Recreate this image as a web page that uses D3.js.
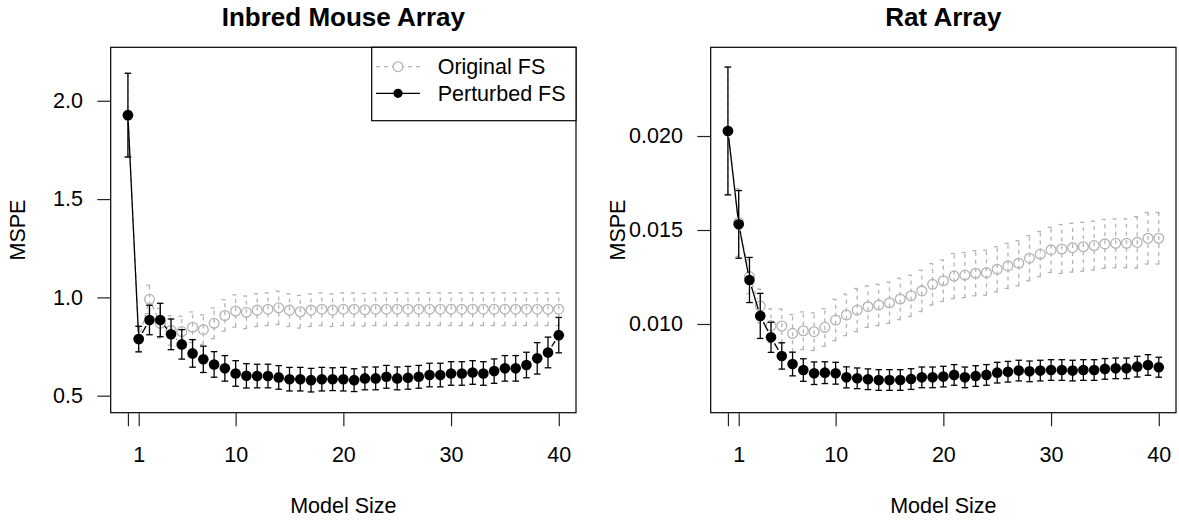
<!DOCTYPE html>
<html>
<head>
<meta charset="utf-8">
<script src="https://cdn.jsdelivr.net/npm/d3@7"></script>
<style>
  body { margin: 0; background: #fff; }
  svg text { font-family: "Liberation Sans", Arial, Helvetica, sans-serif; fill: #000; }
</style>
</head>
<body>
<div class="chart"></div>
<script>
// data
var modelSize = [0, 1, 2, 3, 4, 5, 6, 7, 8, 9, 10, 11, 12, 13, 14, 15, 16, 17, 18, 19, 20,
  21, 22, 23, 24, 25, 26, 27, 28, 29, 30, 31, 32, 33, 34, 35, 36, 37, 38, 39, 40];

var xTicks = [0, 1, 10, 20, 30, 40];
var xTickLabels = ["", "1", "10", "20", "30", "40"];

var mouseTicks = [0.5, 1.0, 1.5, 2.0];
var ratTicks = [0.010, 0.015, 0.020];

// Inbred mouse array
var mouseOrig = [1.927, 0.788, 0.990, 0.868, 0.832, 0.826, 0.848, 0.836, 0.868, 0.908, 0.931,
  0.924, 0.935, 0.940, 0.947, 0.935, 0.927, 0.935, 0.940, 0.935, 0.940,
  0.940, 0.937, 0.940, 0.940, 0.940, 0.940, 0.940, 0.940, 0.940, 0.940,
  0.940, 0.940, 0.940, 0.940, 0.940, 0.940, 0.940, 0.940, 0.940, 0.940];
var mouseOrigErr = [0.213, 0.065, 0.072, 0.075, 0.075, 0.078, 0.078, 0.075, 0.078, 0.080, 0.082,
  0.083, 0.083, 0.083, 0.085, 0.083, 0.083, 0.083, 0.083, 0.083, 0.083,
  0.083, 0.083, 0.083, 0.083, 0.083, 0.083, 0.083, 0.083, 0.083, 0.083,
  0.083, 0.083, 0.083, 0.083, 0.083, 0.083, 0.083, 0.083, 0.083, 0.083];
var mousePert = [1.927, 0.788, 0.885, 0.885, 0.812, 0.761, 0.715, 0.685, 0.659, 0.639, 0.613,
  0.601, 0.600, 0.600, 0.593, 0.584, 0.584, 0.579, 0.584, 0.584, 0.584,
  0.579, 0.588, 0.588, 0.596, 0.588, 0.591, 0.596, 0.605, 0.605, 0.613,
  0.613, 0.618, 0.613, 0.625, 0.639, 0.639, 0.656, 0.690, 0.720, 0.808];
var mousePertErr = [0.213, 0.065, 0.075, 0.085, 0.078, 0.075, 0.070, 0.067, 0.065, 0.065, 0.065,
  0.062, 0.060, 0.060, 0.060, 0.060, 0.060, 0.060, 0.060, 0.058, 0.060,
  0.058, 0.058, 0.058, 0.058, 0.058, 0.058, 0.058, 0.060, 0.060, 0.060,
  0.060, 0.060, 0.060, 0.062, 0.065, 0.065, 0.065, 0.080, 0.078, 0.090];

// Rat array
var ratOrig = [0.02027, 0.0154, 0.01252, 0.01096, 0.00991, 0.00989, 0.0095, 0.00964, 0.00959, 0.00982, 0.01021,
  0.01048, 0.01074, 0.01092, 0.01101, 0.01113, 0.01133, 0.0115, 0.01176, 0.01211, 0.0123,
  0.01255, 0.0126, 0.0127, 0.01273, 0.01291, 0.01309, 0.01323, 0.0135, 0.01372, 0.01394,
  0.01399, 0.01406, 0.01411, 0.01417, 0.01426, 0.01429, 0.01429, 0.01434, 0.01456, 0.01456];
var ratOrigErr = [0.0034, 0.0018, 0.0009, 0.0009, 0.0009, 0.0009, 0.0010, 0.0010, 0.0010, 0.0010, 0.0011,
  0.0011, 0.00115, 0.0011, 0.0011, 0.0011, 0.0011, 0.0011, 0.0011, 0.0011, 0.0011,
  0.0012, 0.0012, 0.0012, 0.0012, 0.0012, 0.0012, 0.0012, 0.0012, 0.0012, 0.0012,
  0.0013, 0.0013, 0.0013, 0.0013, 0.0013, 0.0013, 0.0013, 0.00137, 0.00137, 0.00137];
var ratPert = [0.02027, 0.0153, 0.01234, 0.01043, 0.00929, 0.0083, 0.00787, 0.00755, 0.00738, 0.00741, 0.00738,
  0.00716, 0.00711, 0.00706, 0.00702, 0.00702, 0.00702, 0.00707, 0.00716, 0.00716, 0.0072,
  0.00729, 0.00716, 0.00723, 0.00729, 0.00741, 0.00746, 0.00752, 0.00748, 0.00752, 0.00755,
  0.00755, 0.00752, 0.00755, 0.00755, 0.00761, 0.00764, 0.00764, 0.00773, 0.00782, 0.0077];
var ratPertErr = [0.0034, 0.0018, 0.0012, 0.0012, 0.0008, 0.0007, 0.00063, 0.0006, 0.0006, 0.00058, 0.00058,
  0.00056, 0.00055, 0.00055, 0.00055, 0.00055, 0.00055, 0.00055, 0.00055, 0.00055, 0.00055,
  0.00055, 0.00055, 0.00055, 0.00055, 0.00055, 0.00055, 0.00055, 0.00055, 0.00055, 0.00055,
  0.00055, 0.00055, 0.00055, 0.00055, 0.00055, 0.00055, 0.00055, 0.00055, 0.00055, 0.00053];

// SVG container
var svgWidth = 1179;
var svgHeight = 520;
var grey = "#b4b4b4";

var svg = d3.select(".chart")
  .append("svg")
  .attr("width", svgWidth)
  .attr("height", svgHeight);

// R style "b" lines: segments with a gap round each point
function drawSegments(g, xs, ys, x, y, color, dash) {
  var gap = 7;
  for (var i = 0; i < xs.length - 1; i++) {
    var x1 = x(xs[i]), y1 = y(ys[i]), x2 = x(xs[i + 1]), y2 = y(ys[i + 1]);
    var len = Math.hypot(x2 - x1, y2 - y1);
    if (len <= 2 * gap) continue;
    var ux = (x2 - x1) / len, uy = (y2 - y1) / len;
    g.append("line")
      .attr("x1", x1 + ux * gap).attr("y1", y1 + uy * gap)
      .attr("x2", x2 - ux * gap).attr("y2", y2 - uy * gap)
      .attr("stroke", color)
      .attr("stroke-width", 1.3)
      .attr("stroke-dasharray", dash);
  }
}

function drawErrors(g, xs, ys, err, x, y, color, dash) {
  var cap = 3.3;
  var bars = g.selectAll(null)
    .data(xs.map((d, i) => ({ x: d, y: ys[i], e: err[i] })))
    .enter()
    .append("g")
    .attr("stroke", color)
    .attr("stroke-width", 1.3)
    .attr("stroke-dasharray", dash);
  bars.append("line")
    .attr("x1", d => x(d.x)).attr("x2", d => x(d.x))
    .attr("y1", d => y(d.y - d.e)).attr("y2", d => y(d.y + d.e));
  bars.append("line")
    .attr("x1", d => x(d.x) - cap).attr("x2", d => x(d.x) + cap)
    .attr("y1", d => y(d.y + d.e)).attr("y2", d => y(d.y + d.e));
  bars.append("line")
    .attr("x1", d => x(d.x) - cap).attr("x2", d => x(d.x) + cap)
    .attr("y1", d => y(d.y - d.e)).attr("y2", d => y(d.y - d.e));
}

function drawPanel(p) {
  var left = p.left, right = p.left + 465.3, top = 47.3, bottom = 412.7;

  var xScale = d3.scaleLinear().domain([-1.6, 41.6]).range([left, right]);
  var yScale = d3.scaleLinear().domain(p.yDomain).range([bottom, top]);

  var g = svg.append("g");

  // grey series (original FS)
  drawSegments(g, modelSize, p.orig, xScale, yScale, grey, "4,4");
  drawErrors(g, modelSize, p.orig, p.origErr, xScale, yScale, grey, "4,4");
  g.selectAll(null)
    .data(modelSize)
    .enter()
    .append("circle")
    .attr("cx", d => xScale(d))
    .attr("cy", (d, i) => yScale(p.orig[i]))
    .attr("r", 4.9)
    .attr("fill", "none")
    .attr("stroke", grey)
    .attr("stroke-width", 1.3);

  // black series (perturbed FS)
  drawSegments(g, modelSize, p.pert, xScale, yScale, "#000", null);
  drawErrors(g, modelSize, p.pert, p.pertErr, xScale, yScale, "#000", null);
  g.selectAll(null)
    .data(modelSize)
    .enter()
    .append("circle")
    .attr("cx", d => xScale(d))
    .attr("cy", (d, i) => yScale(p.pert[i]))
    .attr("r", 5.3)
    .attr("fill", "#000");

  // box
  svg.append("rect")
    .attr("x", left).attr("y", top)
    .attr("width", right - left).attr("height", bottom - top)
    .attr("fill", "none")
    .attr("stroke", "#000")
    .attr("stroke-width", 1.2);

  // axes
  var xAxis = d3.axisBottom(xScale)
    .tickValues(xTicks)
    .tickFormat((d, i) => xTickLabels[i])
    .tickSize(13)
    .tickPadding(20.5);
  var xg = svg.append("g")
    .attr("transform", `translate(0, ${bottom + 0.5})`)
    .call(xAxis);

  var yAxis = d3.axisLeft(yScale)
    .tickValues(p.yTicks)
    .tickFormat(p.yFormat)
    .tickSize(13.3)
    .tickPadding(14.5);
  var yg = svg.append("g")
    .attr("transform", `translate(${left}, 0)`)
    .call(yAxis);

  [xg, yg].forEach(function(a) {
    a.select(".domain").remove();
    a.selectAll(".tick line").attr("stroke", "#222").attr("stroke-width", 1.2);
    a.selectAll(".tick text")
      .attr("font-size", "21.5px")
      .attr("font-family", '"Liberation Sans", Arial, sans-serif')
      .attr("fill", "#000");
  });

  // title
  svg.append("text")
    .attr("x", (left + right) / 2)
    .attr("y", 26)
    .attr("text-anchor", "middle")
    .attr("font-size", "26px")
    .attr("font-weight", "bold")
    .text(p.title);

  // x label
  svg.append("text")
    .attr("x", (left + right) / 2)
    .attr("y", 513)
    .attr("text-anchor", "middle")
    .attr("font-size", "21.5px")
    .text("Model Size");

  // y label
  svg.append("text")
    .attr("transform", `translate(${left - 85.5}, ${(top + bottom) / 2}) rotate(-90)`)
    .attr("text-anchor", "middle")
    .attr("font-size", "21.5px")
    .text("MSPE");

  return { x: xScale, y: yScale, left: left, right: right, top: top };
}

var mouse = drawPanel({
  left: 110.7,
  title: "Inbred Mouse Array",
  yDomain: [0.4135, 2.272],
  yTicks: mouseTicks,
  yFormat: d3.format(".1f"),
  orig: mouseOrig, origErr: mouseOrigErr,
  pert: mousePert, pertErr: mousePertErr
});

drawPanel({
  left: 710.7,
  title: "Rat Array",
  yDomain: [0.00528, 0.02472],
  yTicks: ratTicks,
  yFormat: d3.format(".3f"),
  orig: ratOrig, origErr: ratOrigErr,
  pert: ratPert, pertErr: ratPertErr
});

// legend (left panel only)
var legend = svg.append("g");
legend.append("rect")
  .attr("x", 371.7).attr("y", mouse.top)
  .attr("width", mouse.right - 371.7).attr("height", 73.4)
  .attr("fill", "#fff")
  .attr("stroke", "#000")
  .attr("stroke-width", 1.2);

var legendItems = [
  { label: "Original FS", y: 66.7 },
  { label: "Perturbed FS", y: 93.3 }
];

legend.append("line")
  .attr("x1", 376).attr("x2", 420)
  .attr("y1", legendItems[0].y).attr("y2", legendItems[0].y)
  .attr("stroke", grey).attr("stroke-width", 1.3).attr("stroke-dasharray", "4,4");
legend.append("circle")
  .attr("cx", 398).attr("cy", legendItems[0].y).attr("r", 4.9)
  .attr("fill", "#fff").attr("stroke", grey).attr("stroke-width", 1.3);
legend.append("line")
  .attr("x1", 376).attr("x2", 420)
  .attr("y1", legendItems[1].y).attr("y2", legendItems[1].y)
  .attr("stroke", "#000").attr("stroke-width", 1.3);
legend.append("circle")
  .attr("cx", 398).attr("cy", legendItems[1].y).attr("r", 4.6)
  .attr("fill", "#000");

legend.selectAll("text")
  .data(legendItems)
  .enter()
  .append("text")
  .attr("x", 437.7)
  .attr("y", d => d.y)
  .attr("dy", "0.35em")
  .attr("font-size", "21.5px")
  .text(d => d.label);
</script>
</body>
</html>
